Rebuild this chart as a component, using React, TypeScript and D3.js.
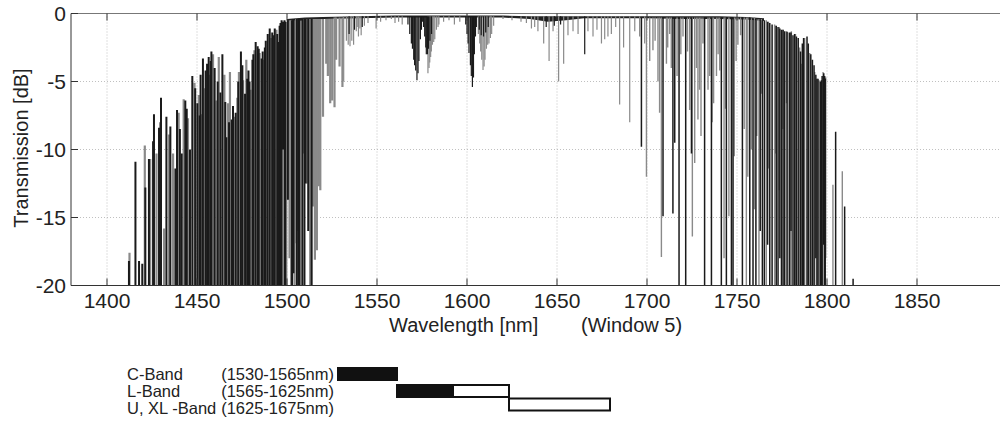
import React, { useEffect, useRef } from 'react';
import * as d3 from 'd3';

// axis ticks
const xTicks = [1400, 1450, 1500, 1550, 1600, 1650, 1700, 1750, 1800, 1850];
const yTicks = [0, -5, -10, -15, -20];

// [wavelength nm, top dB, bottom dB] - rising edge, black trace
const leftDark: [number, number, number][] = [
  [1412.2, -18.2, -20], [1415.8, -10.9, -20], [1417.8, -18.2, -20], [1419.6, -18.4, -20],
  [1421.3, -12.8, -20], [1423.3, -10.7, -20], [1425.6, -9.4, -20], [1426.1, -7.4, -20],
  [1428.9, -8.4, -20], [1430.0, -6.2, -20], [1433.0, -7.6, -20], [1435.2, -8.3, -20],
  [1438.0, -11.4, -20], [1438.9, -7.1, -20], [1440.5, -8.5, -20], [1441.5, -10.3, -20],
  [1443.5, -6.4, -20], [1444.3, -7.0, -20], [1446.1, -10.0, -20], [1447.4, -4.6, -20],
  [1449.0, -5.5, -20], [1450.2, -6.6, -20], [1451.5, -7.5, -20], [1452.0, -4.5, -20],
  [1453.3, -3.3, -20], [1454.8, -4.2, -20], [1455.6, -3.7, -20], [1456.5, -3.2, -20],
  [1457.6, -3.5, -20], [1458.0, -2.8, -20], [1459.8, -4.0, -20], [1461.5, -5.0, -20],
  [1463.0, -5.8, -20], [1464.1, -3.0, -20], [1465.7, -6.5, -20], [1466.3, -9.1, -20],
  [1467.8, -8.0, -20], [1469.3, -7.8, -20], [1470.0, -6.8, -20], [1471.5, -7.3, -20],
  [1472.9, -5.0, -20], [1474.4, -2.8, -20], [1475.2, -3.8, -20], [1476.7, -5.9, -20],
  [1477.9, -4.8, -20], [1478.6, -4.2, -20], [1479.2, -5.0, -20], [1480.8, -3.4, -20],
  [1481.3, -3.0, -20], [1482.6, -2.1, -20], [1483.7, -2.4, -20], [1484.3, -2.6, -20],
  [1485.9, -3.3, -20], [1486.5, -2.8, -20], [1487.7, -2.5, -20], [1488.2, -2.0, -20],
  [1489.3, -1.5, -20], [1490.4, -1.1, -20], [1491.8, -1.4, -20], [1492.2, -1.6, -20],
  [1493.2, -1.1, -20], [1494.6, -1.5, -20], [1495.2, -2.1, -20], [1495.9, -0.9, -20],
  [1496.4, -0.7, -20], [1497.0, -0.5, -20], [1497.8, -0.6, -10.0], [1498.6, -0.5, -20],
  [1499.0, -0.6, -20], [1500.5, -0.5, -13.7], [1502.8, -0.5, -20], [1503.6, -0.4, -19.1],
  [1505.5, -0.4, -20], [1506.5, -0.4, -20], [1507.0, -0.4, -20], [1508.5, -0.4, -20],
  [1509.7, -0.4, -20], [1510.3, -0.4, -12.5], [1511.8, -0.4, -16.0], [1513.7, -0.4, -20],
];

// rising edge, grey trace
const leftGray: [number, number, number][] = [
  [1412.5, -17.6, -20], [1421.0, -9.7, -20], [1424.0, -10.7, -20], [1427.5, -10.3, -20],
  [1429.5, -8.0, -20], [1431.7, -15.8, -20], [1434.4, -8.9, -20], [1436.7, -10.3, -20],
  [1439.8, -7.3, -20], [1442.6, -6.3, -20], [1445.0, -7.7, -20], [1448.6, -5.1, -20],
  [1451.0, -6.0, -20], [1452.5, -7.4, -20], [1454.3, -5.5, -20], [1457.1, -4.5, -20],
  [1458.9, -3.0, -20], [1460.8, -6.4, -20], [1462.1, -3.2, -20], [1465.2, -4.5, -20],
  [1467.2, -6.6, -20], [1468.3, -4.3, -20], [1470.6, -7.6, -20], [1472.4, -6.2, -20],
  [1473.3, -4.3, -20], [1475.6, -4.9, -20], [1477.4, -3.4, -20], [1479.7, -5.6, -20],
  [1481.9, -2.7, -20], [1484.8, -2.9, -20], [1487.1, -3.4, -20], [1491.3, -1.8, -20],
  [1494.1, -1.2, -20], [1496.9, -0.7, -20], [1499.6, -0.6, -20], [1501.4, -0.5, -18.0],
  [1502.3, -0.5, -20], [1504.2, -0.5, -20], [1505.1, -0.4, -16.9], [1506.0, -0.4, -16.0],
  [1509.2, -0.4, -10.3], [1511.1, -0.4, -12.5], [1512.2, -0.4, -13.7], [1512.9, -0.4, -20],
  [1514.4, -0.4, -14.2], [1515.5, -0.4, -18.1], [1516.6, -0.4, -17.4], [1517.7, -0.4, -12.7],
  [1518.5, -0.4, -13.0], [1520.0, -0.4, -7.6], [1521.8, -0.4, -3.7], [1522.7, -0.4, -4.6],
  [1524.0, -0.4, -6.6], [1525.1, -0.4, -6.4], [1526.4, -0.3, -6.9], [1527.3, -0.3, -3.4],
  [1529.2, -0.3, -3.9], [1530.8, -0.3, -5.4],
];

// flat top region: [wavelength, dip bottom dB], dips start at flatTop
const flatTop = -0.2;
const midDark: [number, number][] = [
  [1534.5, -1.5], [1537.5, -1.2], [1541.8, -1.0],
  [1567.2, -0.8], [1568.2, -1.5], [1569.1, -2.2], [1569.7, -2.6], [1570.4, -3.4], [1570.9, -3.8],
  [1571.5, -4.2], [1572.2, -4.9], [1572.8, -4.4], [1573.3, -3.5], [1574.1, -1.9], [1574.7, -1.2],
  [1575.2, -0.6], [1575.9, -1.0], [1576.5, -1.7], [1577.1, -2.5], [1577.4, -3.0], [1578.0, -3.0],
  [1578.6, -2.6], [1579.4, -2.0], [1580.3, -1.5],
  [1599.3, -0.8], [1600.0, -1.5], [1600.6, -2.2], [1601.1, -2.9], [1601.9, -3.8], [1602.4, -4.6],
  [1603.0, -5.4], [1603.6, -4.7], [1604.1, -3.0], [1604.7, -1.7], [1605.2, -1.0],
  [1606.8, -1.2], [1607.9, -1.6], [1609.2, -1.7], [1610.4, -1.4], [1611.8, -1.0],
  [1644.0, -1.0], [1648.5, -0.9], [1652.0, -0.8], [1665.4, -3.0],
];
const midGray: [number, number][] = [
  [1531.5, -5.0], [1533.0, -2.0], [1534.0, -2.3], [1535.0, -2.4], [1536.0, -2.0], [1537.0, -2.3],
  [1538.5, -1.3], [1539.0, -1.0], [1539.7, -1.7], [1540.5, -1.1], [1541.2, -1.6], [1543.0, -0.9],
  [1545.0, -0.7], [1549.5, -1.1], [1552.0, -0.6], [1555.0, -0.5], [1558.0, -0.4], [1560.0, -0.7],
  [1562.0, -0.6], [1564.0, -0.8],
  [1578.3, -4.4], [1578.9, -4.0], [1579.3, -3.6], [1579.8, -3.2], [1580.2, -2.8], [1580.8, -2.3],
  [1581.5, -2.1], [1582.1, -1.9], [1583.0, -1.2], [1583.9, -1.0], [1584.4, -0.8],
  [1587.0, -0.6], [1590.0, -0.5], [1593.0, -0.8], [1596.0, -0.6],
  [1606.3, -1.5], [1607.1, -2.2], [1607.6, -2.8], [1608.2, -3.4], [1608.9, -4.15], [1609.5, -3.9],
  [1610.0, -3.4], [1610.8, -2.6], [1611.5, -2.3], [1612.2, -2.2], [1613.0, -1.8], [1613.7, -1.5],
  [1614.8, -0.9],
  [1620.0, -0.4], [1625.0, -0.5], [1630.0, -0.6], [1633.0, -0.7], [1635.8, -1.1], [1637.6, -1.0],
  [1639.4, -1.3], [1642.6, -2.2], [1645.6, -3.5], [1647.8, -1.3], [1650.9, -5.0], [1653.7, -3.7],
  [1656.1, -1.6], [1658.9, -1.3], [1661.7, -1.5], [1667.2, -1.3], [1670.0, -1.7], [1672.2, -1.2],
  [1674.7, -2.2], [1676.5, -1.9], [1678.3, -1.7], [1680.2, -1.5], [1682.6, -1.0], [1684.8, -6.7],
  [1687.0, -2.5], [1690.4, -8.0], [1693.2, -1.3], [1695.9, -1.7], [1698.7, -2.2],
];

// falling edge, black trace
const rightDark: [number, number, number][] = [
  [1696.9, -0.3, -9.8], [1708.9, -0.3, -14.9], [1714.4, -0.3, -14.7], [1715.4, -0.3, -9.5],
  [1717.8, -0.3, -20], [1721.5, -0.3, -20], [1724.7, -0.3, -10.3], [1732.0, -0.3, -20],
  [1735.8, -0.3, -20], [1741.3, -0.3, -20], [1744.1, -0.3, -20], [1746.9, -0.3, -20],
  [1747.8, -0.3, -20], [1753.0, -0.3, -20], [1757.1, -0.3, -20], [1758.9, -0.4, -20],
  [1760.5, -0.4, -20], [1762.9, -0.45, -16.0], [1764.1, -0.5, -20], [1765.2, -0.5, -20],
  [1767.0, -0.6, -17.0], [1768.2, -0.7, -20], [1769.5, -0.8, -20], [1771.8, -0.9, -20],
  [1772.8, -1.0, -20], [1773.8, -1.1, -18.0], [1774.7, -1.2, -20], [1775.6, -1.2, -20],
  [1776.5, -1.3, -20], [1777.8, -1.35, -20], [1779.3, -1.4, -20], [1780.0, -1.4, -16.0],
  [1781.1, -1.6, -20], [1782.0, -1.5, -20], [1783.0, -1.7, -20], [1784.0, -1.8, -20],
  [1785.3, -2.8, -20], [1786.3, -2.2, -20], [1787.0, -1.8, -20], [1788.9, -1.7, -20],
  [1789.6, -2.2, -20], [1791.0, -3.0, -20], [1791.9, -3.4, -20], [1792.8, -3.8, -20],
  [1793.8, -4.5, -18.0], [1794.4, -4.8, -20], [1795.0, -4.8, -20], [1796.3, -5.0, -20],
  [1796.9, -4.9, -20], [1797.3, -4.6, -20], [1798.2, -4.4, -17.0], [1798.7, -4.6, -20],
  [1799.0, -4.8, -20], [1804.8, -8.7, -20], [1809.8, -14.2, -20], [1814.5, -19.5, -20],
];

// falling edge, grey trace
const rightGray: [number, number, number][] = [
  [1699.7, -0.3, -12.0], [1701.5, -0.3, -3.5], [1703.3, -0.3, -2.7], [1704.5, -0.3, -2.0],
  [1706.1, -0.3, -5.0], [1707.0, -0.3, -7.3], [1708.0, -0.3, -17.9], [1710.8, -0.3, -3.7],
  [1711.5, -0.3, -2.5], [1712.6, -0.3, -1.5], [1713.5, -0.3, -4.0], [1716.7, -0.3, -4.6],
  [1718.8, -0.3, -3.0], [1720.0, -0.3, -1.7], [1722.5, -0.3, -2.8], [1723.7, -0.3, -7.1],
  [1725.2, -0.3, -16.4], [1726.5, -0.3, -11.0], [1727.5, -0.3, -4.0], [1728.3, -0.3, -7.8],
  [1729.2, -0.3, -5.6], [1730.0, -0.3, -9.0], [1731.1, -0.3, -2.2], [1733.9, -0.3, -5.6],
  [1734.8, -0.3, -4.6], [1736.2, -0.3, -8.0], [1737.0, -0.3, -6.6], [1738.6, -0.3, -4.6],
  [1739.5, -0.3, -3.0], [1740.4, -0.3, -4.2], [1742.8, -0.3, -18.0], [1743.5, -0.3, -7.0],
  [1745.5, -0.3, -14.9], [1748.5, -0.3, -10.5], [1749.5, -0.3, -3.5], [1750.5, -0.3, -2.3],
  [1752.0, -0.3, -1.6], [1754.0, -0.3, -8.5], [1755.2, -0.3, -20], [1756.0, -0.3, -12.0],
  [1758.0, -0.35, -10.0], [1759.7, -0.3, -14.4], [1761.0, -0.4, -9.0], [1762.2, -0.4, -20],
  [1763.5, -0.4, -5.9], [1766.3, -0.5, -20], [1767.5, -0.6, -11.4], [1770.9, -0.8, -20],
  [1771.5, -0.9, -10.3], [1773.5, -1.0, -13.0], [1775.5, -1.2, -8.5], [1777.5, -1.3, -6.6],
  [1778.4, -1.4, -20], [1780.2, -1.3, -20], [1782.5, -1.5, -20], [1784.8, -2.5, -20],
  [1785.8, -3.7, -20], [1787.6, -1.8, -20], [1790.4, -2.9, -20], [1793.2, -4.3, -20],
  [1795.6, -4.9, -20], [1797.8, -4.3, -20], [1799.3, -4.7, -18.0], [1803.3, -12.6, -20],
  [1808.5, -11.6, -20],
];

// thin dark ripple band along the top of the pass band
const bandWl = [1500, 1510, 1520, 1540, 1560, 1580, 1600, 1620, 1635, 1645, 1655, 1665, 1680,
  1700, 1720, 1740, 1755, 1765];
const bandTop = [-0.4, -0.3, -0.25, -0.2, -0.15, -0.15, -0.15, -0.15, -0.2, -0.2, -0.2, -0.2, -0.2,
  -0.2, -0.2, -0.2, -0.25, -0.35];
const bandBottom = [-0.6, -0.5, -0.4, -0.35, -0.3, -0.3, -0.3, -0.3, -0.4, -0.6, -0.5, -0.35, -0.35,
  -0.35, -0.4, -0.4, -0.45, -0.55];

// band legend
const bandNames = ['C-Band', 'L-Band', 'U, XL -Band'];
const bandRanges = ['(1530-1565nm)', '(1565-1625nm)', '(1625-1675nm)'];
const bandStart = [1530, 1565, 1625];
const bandFilledEnd = [1565, 1595, 1625];
const bandEnd = [1565, 1625, 1675];

const font = 'Liberation Sans, Arial, sans-serif';

const App = () => {
  const svgRef = useRef<SVGSVGElement>(null);

  useEffect(() => {
    const svg = d3.select(svgRef.current);
    svg.selectAll('*').remove();

    const x = d3.scaleLinear().domain([1380, 1900]).range([71, 1007]);
    const y = d3.scaleLinear().domain([0, -20]).range([13.5, 285.5]);
    const [x0, x1] = x.range();
    const [y0, y1] = y.range();

    svg.append('defs').append('clipPath').attr('id', 'plot')
      .append('rect').attr('x', x0).attr('y', y0).attr('width', x1 - x0).attr('height', y1 - y0);

    // grid
    const grid = svg.append('g').attr('stroke', '#b0b0b0').attr('stroke-dasharray', '1,2').attr('stroke-width', 0.8);
    grid.selectAll('line.v').data(xTicks).join('line')
      .attr('x1', (d) => x(d)).attr('x2', (d) => x(d)).attr('y1', y0).attr('y2', y1);
    grid.selectAll('line.h').data(yTicks.slice(1, -1)).join('line')
      .attr('x1', x0).attr('x2', x1).attr('y1', (d) => y(d)).attr('y2', (d) => y(d));

    const plot = svg.append('g').attr('clip-path', 'url(#plot)');

    const band = d3.area<number>()
      .x((d) => x(bandWl[d]))
      .y0((d) => y(bandTop[d]))
      .y1((d) => y(bandBottom[d]));
    plot.append('path').attr('d', band(d3.range(bandWl.length))).attr('fill', '#222');

    const segs = (data: [number, number, number][], color: string, w: number) => {
      plot.append('g').attr('stroke', color).attr('stroke-width', w)
        .selectAll('line').data(data).join('line')
        .attr('x1', (d) => x(d[0])).attr('x2', (d) => x(d[0]))
        .attr('y1', (d) => y(d[1])).attr('y2', (d) => y(d[2]));
    };
    segs(leftGray, '#8a8a8a', 2.2);
    segs(leftDark, '#1a1a1a', 2);
    segs(midGray.map((d) => [d[0], flatTop, d[1]] as [number, number, number]), '#8a8a8a', 1.2);
    segs(midDark.map((d) => [d[0], flatTop, d[1]] as [number, number, number]), '#1a1a1a', 1.2);
    segs(rightGray, '#8a8a8a', 1.4);
    segs(rightDark, '#1a1a1a', 1.5);

    // frame and ticks
    const axis = svg.append('g').attr('stroke', '#333').attr('stroke-width', 1).attr('fill', 'none');
    axis.append('line').attr('x1', x0).attr('x2', x0).attr('y1', y0).attr('y2', y1);
    axis.append('line').attr('x1', x0).attr('x2', x1).attr('y1', y1).attr('y2', y1);
    axis.append('line').attr('x1', x0).attr('x2', x1).attr('y1', y0).attr('y2', y0).attr('stroke', '#777');
    axis.selectAll('line.xt').data(xTicks).join('line')
      .attr('x1', (d) => x(d)).attr('x2', (d) => x(d)).attr('y1', y1).attr('y2', y1 - 7);
    axis.selectAll('line.xt2').data(xTicks).join('line')
      .attr('x1', (d) => x(d)).attr('x2', (d) => x(d)).attr('y1', y0).attr('y2', y0 + 7);
    axis.selectAll('line.yt').data(yTicks).join('line')
      .attr('x1', x0).attr('x2', x0 + 7).attr('y1', (d) => y(d)).attr('y2', (d) => y(d));

    const labels = svg.append('g').attr('font-family', font).attr('fill', '#222');
    labels.selectAll('text.x').data(xTicks).join('text')
      .attr('x', (d) => x(d)).attr('y', 308).attr('text-anchor', 'middle').attr('font-size', 21)
      .text((d) => d);
    labels.selectAll('text.y').data(yTicks).join('text')
      .attr('x', 66).attr('y', (d) => y(d) + 7).attr('text-anchor', 'end').attr('font-size', 21)
      .text((d) => d);
    labels.append('text').attr('transform', 'translate(28,148) rotate(-90)')
      .attr('text-anchor', 'middle').attr('font-size', 20).text('Transmission [dB]');
    labels.append('text').attr('x', 389).attr('y', 332).attr('font-size', 20).text('Wavelength [nm]');
    labels.append('text').attr('x', 581).attr('y', 332).attr('font-size', 20).text('(Window 5)');

    // band legend
    const lx = d3.scaleLinear().domain([1530, 1565, 1625, 1675]).range([338, 397, 509, 610]);
    const row = d3.scalePoint<number>().domain([0, 1, 2]).range([380, 414]);
    const leg = svg.append('g').attr('font-family', font).attr('font-size', 16.5).attr('fill', '#222');
    bandNames.forEach((name, i) => {
      const ry = row(i) as number;
      leg.append('text').attr('x', 127).attr('y', ry).text(name);
      leg.append('text').attr('x', 334).attr('y', ry).attr('text-anchor', 'end').text(bandRanges[i]);
      const top = ry - 12 - (i === 2 ? 3.5 : 0);
      leg.append('rect').attr('x', lx(bandStart[i])).attr('y', top)
        .attr('width', lx(bandEnd[i]) - lx(bandStart[i])).attr('height', 12)
        .attr('fill', '#fff').attr('stroke', '#111').attr('stroke-width', 2);
      if (bandFilledEnd[i] > bandStart[i]) {
        leg.append('rect').attr('x', lx(bandStart[i])).attr('y', top)
          .attr('width', lx(bandFilledEnd[i]) - lx(bandStart[i])).attr('height', 12)
          .attr('fill', '#111').attr('stroke', '#111').attr('stroke-width', 2);
      }
    });
  }, []);

  return (
    <svg ref={svgRef} width={1000} height={421}
      style={{ position: 'absolute', left: 0, top: 0, background: '#fff' }} />
  );
};

export default App;
